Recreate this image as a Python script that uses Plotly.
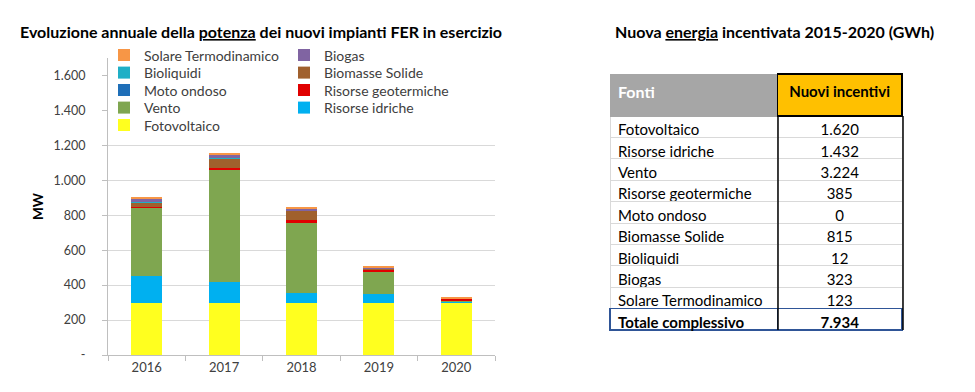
import plotly.graph_objects as go

W, H = 975, 392

years = ["2016", "2017", "2018", "2019", "2020"]

# MW, stacked bottom -> top
fotovoltaico = [300, 300, 300, 300, 300]
risorse_idriche = [155, 119, 54, 50, 6]
vento = [387, 638, 402, 124, 3]
risorse_geotermiche = [5, 13, 16, 15, 12]
moto_ondoso = [0, 0, 0, 0, 0]
biomasse_solide = [28, 57, 54, 6, 2]
bioliquidi = [3, 3, 3, 2, 1]
biogas = [17, 16, 5, 3, 1]
solare_termodinamico = [5, 6, 12, 8, 2]

# (name, values, colour, legend row)
series = [
    ("Fotovoltaico", fotovoltaico, "#FFFF1F", 5),
    ("Risorse idriche", risorse_idriche, "#00B0F0", 4),
    ("Vento", vento, "#7FA650", 4),
    ("Risorse geotermiche", risorse_geotermiche, "#E00000", 3),
    ("Moto ondoso", moto_ondoso, "#1F6FB8", 3),
    ("Biomasse Solide", biomasse_solide, "#A0602D", 2),
    ("Bioliquidi", bioliquidi, "#1FAFC6", 2),
    ("Biogas", biogas, "#8064A2", 1),
    ("Solare Termodinamico", solare_termodinamico, "#F79646", 1),
]

y_tickvals = [0, 200, 400, 600, 800, 1000, 1200, 1400, 1600]
y_ticktext = ["-", "200", "400", "600", "800", "1.000", "1.200", "1.400", "1.600"]
grid_vals = [200, 400, 600, 800, 1000, 1200]

# Table data
table_header = ["Fonti", "Nuovi incentivi"]
fonti = ["Fotovoltaico", "Risorse idriche", "Vento", "Risorse geotermiche",
         "Moto ondoso", "Biomasse Solide", "Bioliquidi", "Biogas",
         "Solare Termodinamico"]
nuovi_incentivi = ["1.620", "1.432", "3.224", "385", "0", "815", "12", "323", "123"]
totale = ["Totale complessivo", "7.934"]

FONT = "Lato, 'Open Sans', sans-serif"

fig = go.Figure()
for name, vals, col, row in series:
    fig.add_trace(go.Bar(x=years, y=vals, name=name,
                         marker=dict(color=col, line=dict(width=0)),
                         legend="legend" if row == 1 else f"legend{row}",
                         xaxis="x", yaxis="y"))

# table geometry (px)
T_L, T_M, T_R = 602, 770, 895
T_TOP, HDR_H, ROW_H = 66, 42, 21.4
n = len(fonti)
T_TOT = T_TOP + HDR_H + ROW_H * n      # top of total row
T_BOT = T_TOT + ROW_H

fig.add_trace(go.Table(
    domain=dict(x=[T_L / W, T_R / W], y=[(H - T_TOT - 4) / H, (H - T_TOP) / H]),
    columnwidth=[T_M - T_L, T_R - T_M],
    header=dict(
        values=[f"<b>{h}</b>" for h in table_header],
        fill=dict(color=["#A6A6A6", "#FFC000"]),
        line=dict(color=["#A6A6A6", "#000000"], width=[1, 1.5]),
        align=["left", "center"],
        font=dict(family=FONT, size=[16, 15], color=["#FFFFFF", "#000000"]),
        height=HDR_H,
    ),
    cells=dict(
        values=[fonti, nuovi_incentivi],
        fill=dict(color="#FFFFFF"),
        line=dict(color="#D9D9D9", width=1),
        align=["left", "center"],
        font=dict(family=FONT, size=15, color="#000000"),
        height=ROW_H,
    ),
))

# total row (bold), drawn as a header-only table
fig.add_trace(go.Table(
    domain=dict(x=[T_L / W, T_R / W], y=[(H - T_BOT - 4) / H, (H - T_TOT) / H]),
    columnwidth=[T_M - T_L, T_R - T_M],
    header=dict(
        values=totale,
        fill=dict(color="#FFFFFF"),
        line=dict(color="#2F5597", width=1.5),
        align=["left", "center"],
        font=dict(family=FONT, size=15, color="#000000", weight="bold"),
        height=ROW_H,
    ),
    cells=dict(values=[[], []], height=ROW_H, line=dict(width=0)),
))

legend_common = dict(
    orientation="h", traceorder="reversed", xanchor="left", yanchor="middle",
    bgcolor="rgba(255,255,255,0)", entrywidth=135, entrywidthmode="pixels",
    font=dict(size=14, color="#404040", family=FONT), itemclick=False,
)
legend_rows_y = [47.5, 65, 82.5, 100, 117.5]
legends = {}
for i, yy in enumerate(legend_rows_y, start=1):
    key = "legend" if i == 1 else f"legend{i}"
    legends[key] = dict(legend_common, x=96 / W, y=1 - yy / H)

fig.update_layout(
    width=W, height=H,
    margin=dict(l=0, r=0, t=0, b=0),
    paper_bgcolor="white", plot_bgcolor="white",
    font=dict(family=FONT, color="#404040"),
    barmode="stack",
    bargap=0.6,
    showlegend=True,
    xaxis=dict(
        domain=[100 / W, 487 / W], type="category", anchor="y",
        showline=True, linecolor="#BFBFBF", ticks="outside", tickson="boundaries",
        ticklen=5, tickcolor="#BFBFBF", showgrid=False,
        tickfont=dict(size=13, color="#404040"), automargin=False,
    ),
    yaxis=dict(
        domain=[45 / H, (H - 50) / H], anchor="x", range=[0, 1700],
        tickvals=y_tickvals, ticktext=y_ticktext,
        showline=True, linecolor="#BFBFBF", ticks="outside", ticklen=5,
        tickcolor="#BFBFBF", showgrid=False, zeroline=False,
        minor=dict(tickmode="array", tickvals=grid_vals, showgrid=True,
                   gridcolor="#D9D9D9", gridwidth=1, ticks=""),
        ticklabelstandoff=14,
        tickfont=dict(size=12.5, color="#404040"), automargin=False,
        title=dict(text="<b>MW</b>", font=dict(size=13.5, color="#000000"), standoff=6),
    ),
    shapes=[
        dict(type="line", xref="paper", yref="paper", layer="above",
             x0=xv / W, x1=xv / W, y0=1 - (T_TOP + HDR_H) / H, y1=1 - T_BOT / H,
             line=dict(color="#000000", width=1.5))
        for xv in (T_M, T_R)
    ],
    annotations=[
        dict(text="<b>Evoluzione annuale della <u>potenza</u> dei nuovi impianti FER in esercizio</b>",
             x=10 / W, y=1 - 24 / H, xref="paper", yref="paper", xanchor="left", yanchor="middle",
             showarrow=False, font=dict(size=16, color="#000000", family=FONT)),
        dict(text="<b>Nuova <u>energia</u> incentivata 2015-2020 (GWh)</b>",
             x=605 / W, y=1 - 24 / H, xref="paper", yref="paper", xanchor="left", yanchor="middle",
             showarrow=False, font=dict(size=16, color="#000000", family=FONT)),
    ],
    **legends,
)

fig.write_html("out.html")
